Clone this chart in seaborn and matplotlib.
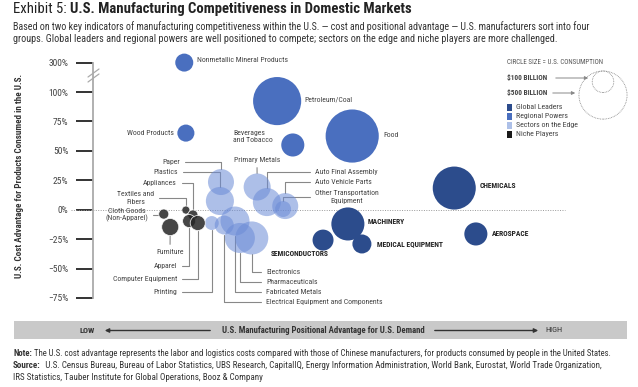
import numpy as np
import pandas as pd
import matplotlib
matplotlib.use("Agg")
import matplotlib.pyplot as plt
import seaborn as sns
from matplotlib import font_manager
from matplotlib.patches import Rectangle

# Values read off the exhibit
# position = positional advantage for U.S. demand (0 = low, 100 = high)
# cost = U.S. cost advantage in %, consumption = U.S. consumption in $ billion
sectors = ["Nonmetallic Mineral Products", "Petroleum/Coal", "Food", "Wood Products",
           "Beverages and Tobacco",
           "Chemicals", "Machinery", "Medical Equipment", "Semiconductors", "Aerospace",
           "Paper", "Plastics", "Primary Metals", "Auto Final Assembly", "Auto Vehicle Parts",
           "Other Transportation Equipment", "Electronics", "Pharmaceuticals",
           "Fabricated Metals", "Electrical Equipment and Components", "Printing",
           "Cloth Goods", "Furniture", "Textiles and Fibers", "Appliances", "Apparel",
           "Computer Equipment"]
groups = ["Regional Powers"] * 5 + ["Global Leaders"] * 5 + ["Sectors on the Edge"] * 11 \
    + ["Niche Players"] * 6
position = [16.9, 34.1, 48.0, 17.2, 37.0,
            66.9, 47.2, 49.8, 42.6, 70.9,
            23.7, 23.5, 30.4, 32.2, 35.6, 35.2, 29.4, 27.2, 26.3, 24.3, 22.0,
            13.1, 14.3, 17.2, 18.5, 17.8, 19.4]
cost = [300, 92.3, 62.6, 65.1, 55.0,
        18.4, -12.1, -29.1, -25.8, -20.6,
        23.5, 7.4, 19.3, 6.5, 3.1, 0.6, -24.0, -24.0, -9.6, -13.0, -11.3,
        -3.7, -14.7, -0.3, -4.5, -9.6, -11.3]
consumption = [70, 500, 610, 63, 115,
               400, 236, 78, 95, 115,
               146, 170, 158, 170, 146, 55, 236, 195, 182, 78, 42,
               22, 63, 14, 22, 37, 49]

ytick_values = [300, 100, 75, 50, 25, 0, -25, -50, -75]
ytick_labels = ["300%", "100%", "75%", "50%", "25%", "0%", "\u221225%", "\u221250%", "\u221275%"]

group_order = ["Global Leaders", "Regional Powers", "Sectors on the Edge", "Niche Players"]
group_colors = {"Global Leaders": "#2c4c8c", "Regional Powers": "#4a6fbf",
                "Sectors on the Edge": "#6b8bd6", "Niche Players": "#262626"}
legend_colors = {"Global Leaders": "#2c4c8c", "Regional Powers": "#4a6fbf",
                 "Sectors on the Edge": "#adc0e8", "Niche Players": "#1a1a1a"}
legend_sizes = [100, 500]


def broken(v):
    # axis is broken above 100%: 300% sits one step above 100%
    v = np.asarray(v, float)
    return np.where(v > 100, 100 + (v - 100) / 8, v)


df = pd.DataFrame({"sector": sectors, "group": groups, "x": position,
                   "cost": cost, "size": consumption})
df["y"] = broken(df["cost"])

installed = {f.name for f in font_manager.fontManager.ttflist}
FONT = next((f for f in ["Roboto Condensed", "Liberation Sans Narrow", "Open Sans Condensed",
                         "Roboto"] if f in installed), "DejaVu Sans")

sns.set_theme(style="white")
plt.rcParams["font.family"] = [FONT, "DejaVu Sans"]

W, H = 638, 387
K = 2.4  # marker area (pt^2) per $ billion
fig = plt.figure(figsize=(W / 100, H / 100), dpi=100)
ax = fig.add_axes([93 / W, 1 - 312 / H, 540 / W, 262 / H])
lay = fig.add_axes([0, 0, 1, 1], zorder=3)
lay.set_xlim(0, W)
lay.set_ylim(H, 0)
lay.axis("off")

# bubbles
styles = {"Regional Powers": dict(alpha=1, linewidth=0, zorder=3),
          "Global Leaders": dict(alpha=1, linewidth=0, zorder=3),
          "Sectors on the Edge": dict(alpha=0.55, linewidth=0, zorder=4),
          "Niche Players": dict(alpha=0.85, linewidth=0.6, edgecolor="white", zorder=5)}
for g in ["Regional Powers", "Global Leaders", "Sectors on the Edge", "Niche Players"]:
    sub = df[df.group == g]
    sns.scatterplot(data=sub, x="x", y="y", size="size", sizes=(0, K * 1000),
                    size_norm=(0, 1000), color=group_colors[g], legend=False, ax=ax,
                    **styles[g])

ax.set_xlim(0, 100)
ax.set_ylim(-86.9, 135.7)
ax.set_xlabel("")
ax.set_ylabel("")
ax.set_xticks([])
ax.set_yticks(broken(ytick_values))
ax.set_yticklabels(ytick_labels)
ax.tick_params(axis="y", left=True, direction="out", length=12.2, width=1.4,
               color="#333333", pad=5.5, labelsize=6.8, labelcolor="#444444")
for s in ["top", "right", "bottom"]:
    ax.spines[s].set_visible(False)
ax.spines["left"].set_color("#aaaaaa")
ax.spines["left"].set_linewidth(1.3)
ax.spines["left"].set_bounds(-75, 125)
ax.patch.set_alpha(0)
ax.plot([-0.04, 0.874], [0, 0], transform=ax.get_yaxis_transform(), ls=(0, (1, 1.5)),
        color="#999999", lw=0.7, clip_on=False, zorder=1)

# axis break marks
for dy in (0, 5):
    lay.plot([88, 99], [77 + dy, 69 + dy], color="#aaaaaa", lw=0.9)

lay.text(20, 176, "U.S. Cost Advantage for Products Consumed in the U.S.", rotation=90,
         ha="center", va="center", fontsize=6.6, fontweight="bold", color="#333333")

# labels
LBL = dict(fontsize=5.6, color="#444444")
BLD = dict(fontsize=5.4, color="#222222", fontweight="bold")
pos = df.set_index("sector")


def r_pt(name):
    return np.sqrt(K * pos.loc[name, "size"]) / 2


def leader(text, name, xy_px, ha, straight=False, **kw):
    p = pos.loc[name]
    cs = "arc3" if straight else "angle,angleA=0,angleB=90,rad=0"
    ax.annotate(text, xy=(p.x, p.y), xytext=xy_px, textcoords=lay.transData,
                ha=ha, va="center", multialignment="center" if "\n" in text else "left",
                arrowprops=dict(arrowstyle="-", color="#888888", lw=0.8,
                                connectionstyle=cs, shrinkA=1, shrinkB=r_pt(name)),
                annotation_clip=False, zorder=2, **LBL, **kw)


leader("Paper", "Paper", (180, 162), "right")
leader("Plastics", "Plastics", (178, 172), "right")
leader("Appliances", "Appliances", (177, 183), "right")
leader("Textiles and\nFibers", "Textiles and Fibers", (154, 198), "right")
leader("Cloth Goods\n(Non-Apparel)", "Cloth Goods", (148, 215), "right")
leader("Furniture", "Furniture", (170, 252), "center", straight=True)
leader("Apparel", "Apparel", (177, 266), "right")
leader("Computer Equipment", "Computer Equipment", (177, 279), "right")
leader("Printing", "Printing", (177, 292), "right")
leader("Electronics", "Electronics", (266, 272), "left")
leader("Pharmaceuticals", "Pharmaceuticals", (266, 282), "left")
leader("Fabricated Metals", "Fabricated Metals", (266, 292), "left")
leader("Electrical Equipment and Components", "Electrical Equipment and Components",
       (266, 302), "left")
leader("Primary Metals", "Primary Metals", (257, 160), "center", straight=True)
leader("Auto Final Assembly", "Auto Final Assembly", (315, 172), "left")
leader("Auto Vehicle Parts", "Auto Vehicle Parts", (315, 182), "left")
leader("Other Transportation\nEquipment", "Other Transportation Equipment", (315, 197), "left")

plain = [("Nonmetallic Mineral Products", 197, 60, "left", LBL),
         ("Petroleum/Coal", 304, 99, "left", LBL),
         ("Food", 383, 135, "left", LBL),
         ("Wood Products", 174, 133, "right", LBL),
         ("Beverages\nand Tobacco", 233, 137, "left", LBL),
         ("CHEMICALS", 480, 186, "left", BLD),
         ("MACHINERY", 368, 222, "left", BLD),
         ("MEDICAL EQUIPMENT", 377, 244, "left", BLD),
         ("SEMICONDUCTORS", 271, 254, "left", BLD),
         ("AEROSPACE", 492, 234, "left", BLD)]
for t, x, y, ha, st in plain:
    lay.text(x, y, t, ha=ha, va="center", **st)

# size / colour legend
lay.text(507, 63, "CIRCLE SIZE = U.S. CONSUMPTION", fontsize=5.0, color="#555555",
         va="center")
lay.text(507, 78, "$100 BILLION", fontsize=5.2, fontweight="bold", color="#444444", va="center")
lay.text(507, 93, "$500 BILLION", fontsize=5.2, fontweight="bold", color="#444444", va="center")
lay.annotate("", xy=(591, 78), xytext=(553, 78),
             arrowprops=dict(arrowstyle="-|>", color="#888888", lw=0.7, mutation_scale=5))
lay.annotate("", xy=(578, 93), xytext=(550, 93),
             arrowprops=dict(arrowstyle="-|>", color="#888888", lw=0.7, mutation_scale=5))
top = 71
for v in legend_sizes:
    r_px = np.sqrt(K * v) / 2 / 0.72
    lay.scatter([603], [top + r_px], s=K * v, facecolor="none", edgecolor="#888888",
                linewidth=0.6, linestyle=(0, (1, 1)))
for i, g in enumerate(group_order):
    y = 107 + i * 9
    lay.add_patch(Rectangle((507, y - 3.5), 5, 7, color=legend_colors[g], lw=0))
    lay.text(516, y, g, fontsize=5.7, color="#444444", va="center")

# bottom band
lay.add_patch(Rectangle((14, 321), 613, 18, color="#c9c9c9", lw=0))
lay.text(80, 330.5, "LOW", fontsize=6, fontweight="bold", color="#333333", va="center")
lay.text(323, 330.5, "U.S. Manufacturing Positional Advantage for U.S. Demand", fontsize=6.3,
         fontweight="bold", color="#333333", ha="center", va="center")
lay.text(545, 330.5, "HIGH", fontsize=6, color="#333333", va="center")
lay.annotate("", xy=(102, 330.5), xytext=(213, 330.5),
             arrowprops=dict(arrowstyle="-|>", color="#333333", lw=1, mutation_scale=6))
lay.annotate("", xy=(541, 330.5), xytext=(432, 330.5),
             arrowprops=dict(arrowstyle="-|>", color="#333333", lw=1, mutation_scale=6))

# header and footer text, sized to the widths in the exhibit
renderer = fig.canvas.get_renderer()


def run(parts, x, y, width, size, color):
    objs = []
    for txt, wt in parts:
        objs.append(lay.text(x, y, txt, fontsize=size, fontweight=wt, color=color,
                             va="center"))
    total = sum(o.get_window_extent(renderer).width for o in objs)
    for o in objs:
        o.set_fontsize(size * width / total)
    cx = x
    for o in objs:
        o.set_x(cx)
        cx += o.get_window_extent(renderer).width
    return objs


run([("Exhibit 5: ", "normal"), ("U.S. Manufacturing Competitiveness in Domestic Markets", "bold")],
    13, 9, 397, 11, "#222222")
run([("Based on two key indicators of manufacturing competitiveness within the U.S. \u2014 cost "
      "and positional advantage \u2014 U.S. manufacturers sort into four", "normal")],
    13, 27, 582, 6.5, "#333333")
run([("groups. Global leaders and regional powers are well positioned to compete; sectors on "
      "the edge and niche players are more challenged.", "normal")],
    13, 39.5, 538, 6.5, "#333333")
run([("Note:", "bold"), (" The U.S. cost advantage represents the labor and logistics costs "
                         "compared with those of Chinese manufacturers, for products consumed "
                         "by people in the United States.", "normal")],
    13, 353, 600, 5.8, "#333333")
run([("Source:", "bold"), ("  U.S. Census Bureau, Bureau of Labor Statistics, UBS Research, "
                           "CapitalIQ, Energy Information Administration, World Bank, Eurostat, "
                           "World Trade Organization,", "normal")],
    13, 366, 584, 5.8, "#333333")
run([("IRS Statistics, Tauber Institute for Global Operations, Booz & Company", "normal")],
    13, 378, 247, 5.8, "#333333")

fig.savefig("out.png", dpi=100)
